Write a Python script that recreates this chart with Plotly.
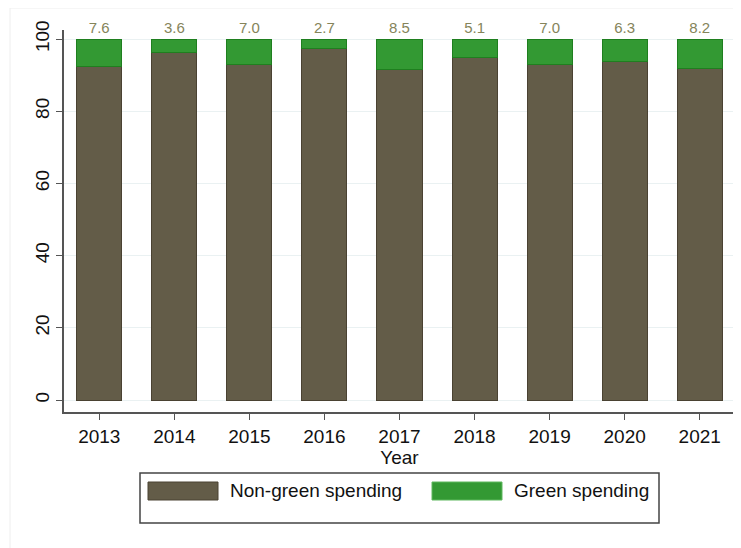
import plotly.graph_objects as go

years = [2013, 2014, 2015, 2016, 2017, 2018, 2019, 2020, 2021]
green_share = [7.6, 3.6, 7.0, 2.7, 8.5, 5.1, 7.0, 6.3, 8.2]
non_green_share = [round(100 - g, 1) for g in green_share]
y_ticks = [0, 20, 40, 60, 80, 100]

FONT = "Liberation Sans, Arial, sans-serif"
BROWN = "#635c48"
GREEN = "#339933"

W, H = 741, 548
OFF = 8  # page body margin of the html page
ML, MT = 64 - OFF, 30 - OFF
MR = W - (735 - OFF)
MB = H - (412 - OFF)
PW, PH = W - ML - MR, H - MT - MB


# screen pixel -> paper coordinates
def px_x(x):
    return (x - OFF - ML) / PW


def px_y(y):
    return (H - MB - (y - OFF)) / PH


fig = go.Figure()

fig.add_trace(go.Bar(
    x=years, y=non_green_share, name="Non-green spending",
    marker=dict(color=BROWN, line=dict(color="#4a4232", width=1)),
    width=0.6,
))
fig.add_trace(go.Bar(
    x=years, y=green_share, name="Green spending",
    marker=dict(color=GREEN, line=dict(color="#1f7f1f", width=1)),
    width=0.6,
    text=["%.1f" % g for g in green_share],
    textposition="outside",
    textfont=dict(size=15, color="#85845a", family=FONT),
    cliponaxis=False,
))

fig.update_layout(
    barmode="stack",
    width=W, height=H,
    margin=dict(l=ML, r=MR, t=MT, b=MB, autoexpand=False),
    plot_bgcolor="white",
    paper_bgcolor="white",
    font=dict(family=FONT, size=19, color="#111111"),
    showlegend=False,
)

fig.update_xaxes(
    range=[2012.53, 2021.47],
    tickvals=years,
    ticks="outside", ticklen=6, tickcolor="#555555",
    showline=True, linecolor="#555555", linewidth=1.5,
    showgrid=False,
    title=dict(text="Year", standoff=0, font=dict(size=19)),
)
fig.update_yaxes(
    range=[-3.32, 102.5],
    tickvals=y_ticks,
    tickangle=-90,
    ticks="outside", ticklen=6, tickcolor="#555555",
    showline=True, linecolor="#555555", linewidth=1.5,
    showgrid=True, gridcolor="#eaf1f2", gridwidth=1,
    zeroline=False,
)

# faint outer frame
fig.add_shape(type="rect", xref="paper", yref="paper",
              x0=px_x(10), x1=px_x(760), y0=px_y(560), y1=px_y(8),
              line=dict(color="#eeeeee", width=1), layer="below")

# legend box drawn to match the wide swatches
fig.add_shape(type="rect", xref="paper", yref="paper",
              x0=px_x(140), x1=px_x(659), y0=px_y(523), y1=px_y(473),
              line=dict(color="#444444", width=1.5), fillcolor="white")
legend_items = [("Non-green spending", BROWN, "#4a4232", 148),
                ("Green spending", GREEN, "#5fb85f", 432)]
for label, fill, edge, x0 in legend_items:
    fig.add_shape(type="rect", xref="paper", yref="paper",
                  x0=px_x(x0), x1=px_x(x0 + 70), y0=px_y(500), y1=px_y(482),
                  line=dict(color=edge, width=1), fillcolor=fill)
    fig.add_annotation(text=label, xref="paper", yref="paper",
                       x=px_x(x0 + 80), y=px_y(491), xanchor="left", yanchor="middle",
                       showarrow=False, font=dict(size=19, color="#111111"))

fig.write_html("out.html")
